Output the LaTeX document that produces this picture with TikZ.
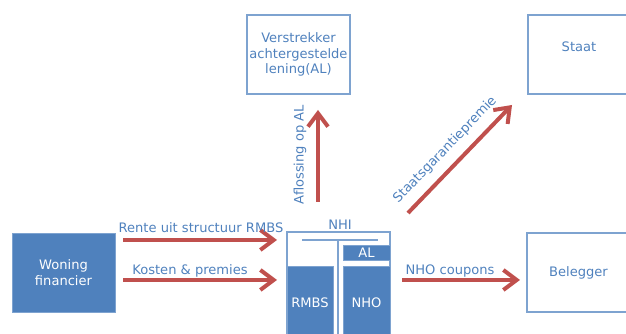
\documentclass[tikz,border=0pt]{standalone}
\usepackage{fontspec}
\setmainfont{DejaVu Sans}
\usetikzlibrary{arrows.meta}

\definecolor{donkerblauw}{HTML}{4F81BD}
\definecolor{lichtblauw}{HTML}{7EA3D0}
\definecolor{pijlrood}{HTML}{C0504D}

\begin{document}
\begin{tikzpicture}[
        x=0.75pt, y=-0.75pt, % coordinaten in pixels, y naar beneden
        font=\fontsize{9.8}{11.8}\selectfont,
        vak/.style={draw=lichtblauw, line width=0.9pt, text=donkerblauw,
            minimum width=77.25pt, minimum height=59.25pt, align=center, inner sep=0pt},
        blok/.style={fill=donkerblauw, draw=lichtblauw, line width=0.6pt, text=white,
            align=center, inner sep=0pt}, % gevulde blokken
        pijl/.style={draw=pijlrood, line width=3pt,
            -{Straight Barb[length=10pt, width=15pt]}}, % rode pijlen
        tekst/.style={text=donkerblauw, inner sep=1pt},
    ]
    \useasboundingbox (0,0) rectangle (626,334);

    % vakken
    \node[blok, minimum width=77.25pt, minimum height=59.25pt] (wf) at (63.5,272.5) {Woning\\financier};
    \node[vak] (al) at (298.5,54.5) {Verstrekker\\achtergestelde\\lening(AL)};
    \node[vak] (staat) at (579.5,54.5) {};
    \node[tekst] (staattekst) at (579,47) {Staat};
    \node[vak] (beleg) at (578.5,272.5) {Belegger};

    % NHI
    \node[vak, minimum height=81pt] (nhi) at (338.5,286) {};
    \node[tekst] (nhitekst) at (340,225) {NHI};
    \node[blok, minimum width=34.5pt, minimum height=55.5pt] (rmbs) at (310,303) {RMBS};
    \node[blok, minimum width=35.25pt, minimum height=55.5pt] (nho) at (366.5,303) {NHO};
    \node[blok, minimum width=35.25pt, minimum height=11.25pt] (alblok) at (366.5,252.5) {AL};
    \coordinate (hl) at (302,240);
    \coordinate (hr) at (378,240);
    \coordinate (vb) at (338,346);
    \draw[lichtblauw, line width=0.9pt] (hl) -- (hr);
    \draw[lichtblauw, line width=0.9pt] (hl -| vb) -- (vb);

    % pijlen
    \coordinate (rente1) at (123,240);
    \coordinate (rente2) at (277,240);
    \coordinate (kosten1) at (123,280);
    \coordinate (kosten2) at (277,280);
    \coordinate (nho1) at (402,280);
    \coordinate (nho2) at (520,280);
    \coordinate (afl1) at (318,202);
    \coordinate (afl2) at (318,110);
    \coordinate (sg1) at (408,213);
    \coordinate (sg2) at (512,105);

    \draw[pijl] (rente1) -- (rente2);
    \draw[pijl] (kosten1) -- (kosten2);
    \draw[pijl] (nho1) -- (nho2);
    \draw[pijl] (afl1) -- (afl2);
    \draw[pijl] (sg1) -- (sg2);

    \node[tekst] (rentetekst) at (201,228) {Rente uit structuur RMBS};
    \node[tekst] (kostentekst) at (190,271) {Kosten \& premies};
    \node[tekst] (nhotekst) at (450,271) {NHO coupons};
    \node[tekst, rotate=90] (afltekst) at (300,155) {Aflossing op AL};
    \node[tekst, rotate=46] (sgtekst) at (445,150) {Staatsgarantiepremie};

\end{tikzpicture}
\end{document}
